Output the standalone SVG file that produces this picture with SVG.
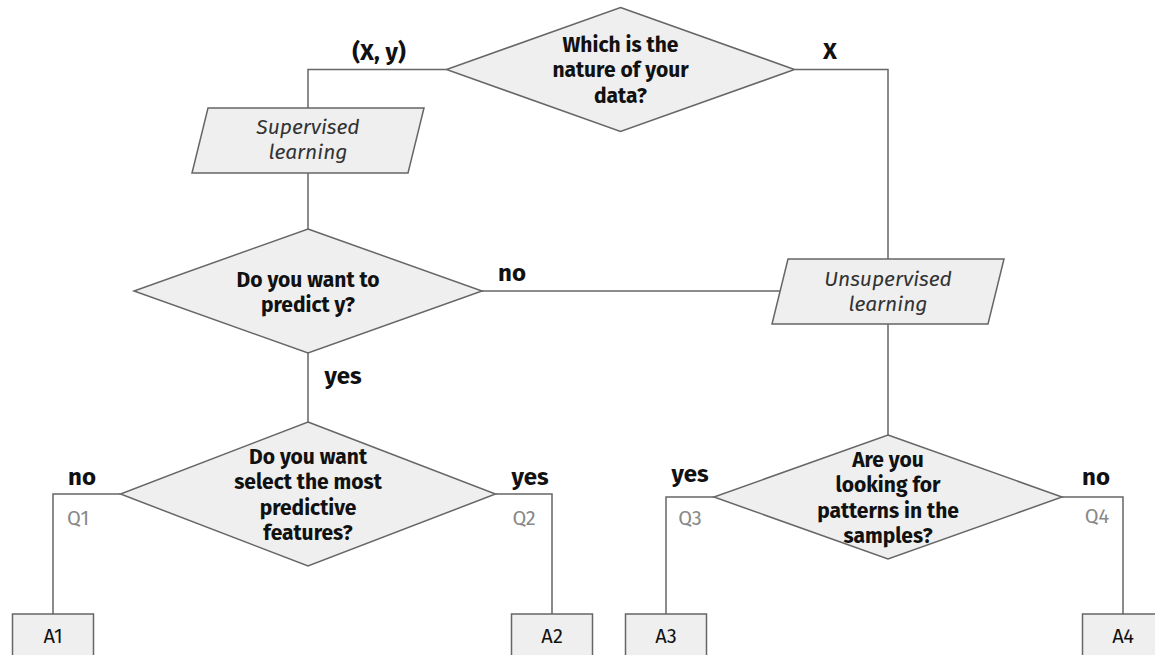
<svg xmlns="http://www.w3.org/2000/svg" width="1155" height="655" viewBox="0 0 1155 655">
<style>
.shape{fill:#eeefee;stroke:#666666;stroke-width:1.5}
.conn{fill:none;stroke:#666666;stroke-width:1.5}
.q{font-family:"Fira Sans","Noto Sans","Open Sans",sans-serif;font-weight:bold;font-size:21px;fill:#111111;text-anchor:middle}
.it{font-family:"Fira Sans","Noto Sans","Open Sans",sans-serif;font-style:italic;font-size:21px;fill:#333333;text-anchor:middle}
.lab{font-family:"Fira Sans","Noto Sans","Open Sans",sans-serif;font-weight:bold;font-size:24px;fill:#111111;text-anchor:middle}
.ql{font-family:"Fira Sans","Noto Sans","Open Sans",sans-serif;font-size:20px;fill:#888888;text-anchor:middle}
.ans{font-family:"Fira Sans","Noto Sans","Open Sans",sans-serif;font-size:20px;fill:#111111;text-anchor:middle}
</style>
<g id="connectors">
<polyline class="conn" points="446.5,69.5 308,69.5 308,108"/>
<polyline class="conn" points="308,173 308,229"/>
<polyline class="conn" points="794.5,69.5 888,69.5 888,259"/>
<polyline class="conn" points="482,291 780,291"/>
<polyline class="conn" points="888,324 888,435"/>
<polyline class="conn" points="308,353 308,422"/>
<polyline class="conn" points="120.5,494 53,494 53,614"/>
<polyline class="conn" points="495.5,494 552,494 552,614"/>
<polyline class="conn" points="714,497 666,497 666,614"/>
<polyline class="conn" points="1062,497 1123,497 1123,614"/>
<text class="lab" x="379" y="60">(X, y)</text>
<text class="lab" x="830" y="59">X</text>
<text class="lab" x="512" y="281">no</text>
<text class="lab" x="343" y="383.5">yes</text>
<text class="lab" x="82" y="485">no</text>
<text class="lab" x="530" y="485">yes</text>
<text class="lab" x="690" y="482">yes</text>
<text class="lab" x="1096" y="485">no</text>
<text class="ql" x="78" y="524.5">Q1</text>
<text class="ql" x="524" y="524.5">Q2</text>
<text class="ql" x="690" y="524.5">Q3</text>
<text class="ql" x="1097" y="523">Q4</text>
</g>
<g id="q-nature">
<polygon class="shape" points="620.5,7.5 794.5,69.5 620.5,131.5 446.5,69.5"/>
<text class="q" x="620.5" y="51.7">Which is the</text>
<text class="q" x="620.5" y="77.2">nature of your</text>
<text class="q" x="620.5" y="102.7">data?</text>
</g>
<g id="supervised">
<polygon class="shape" points="208,108 424,108 408,173 192,173"/>
<text class="it" x="308" y="134">Supervised</text>
<text class="it" x="308" y="158.5">learning</text>
</g>
<g id="unsupervised">
<polygon class="shape" points="788,259 1004,259 988,324 772,324"/>
<text class="it" x="888" y="286">Unsupervised</text>
<text class="it" x="888" y="310.5">learning</text>
</g>
<g id="q-predict">
<polygon class="shape" points="308,229 482,291 308,353 134,291"/>
<text class="q" x="308" y="286.5">Do you want to</text>
<text class="q" x="308" y="312">predict y?</text>
</g>
<g id="q-select">
<polygon class="shape" points="308,422 495.5,494 308,566 120.5,494"/>
<text class="q" x="308" y="463.5">Do you want</text>
<text class="q" x="308" y="489">select the most</text>
<text class="q" x="308" y="514.5">predictive</text>
<text class="q" x="308" y="540">features?</text>
</g>
<g id="q-patterns">
<polygon class="shape" points="888,435 1062,497 888,559 714,497"/>
<text class="q" x="888" y="466.5">Are you</text>
<text class="q" x="888" y="492">looking for</text>
<text class="q" x="888" y="517.5">patterns in the</text>
<text class="q" x="888" y="543">samples?</text>
</g>
<g id="A1">
<rect class="shape" x="12.5" y="614" width="81" height="60"/>
<text class="ans" x="53" y="643">A1</text>
</g>
<g id="A2">
<rect class="shape" x="511.5" y="614" width="81" height="60"/>
<text class="ans" x="552" y="643">A2</text>
</g>
<g id="A3">
<rect class="shape" x="625.5" y="614" width="81" height="60"/>
<text class="ans" x="666" y="643">A3</text>
</g>
<g id="A4">
<rect class="shape" x="1082.5" y="614" width="81" height="60"/>
<text class="ans" x="1123" y="643">A4</text>
</g>
</svg>
